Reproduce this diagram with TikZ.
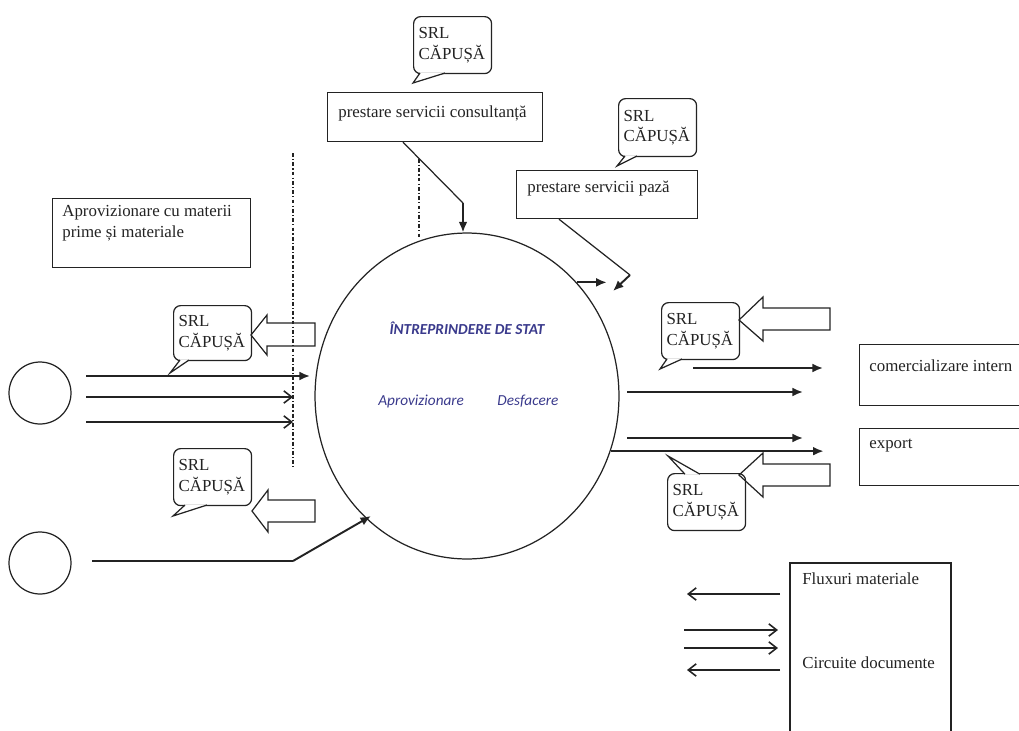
\documentclass[tikz,border=0pt]{standalone}
\usepackage{fontspec}
\setmainfont{Liberation Serif}
\newfontfamily\calfont{Carlito}
\usetikzlibrary{shapes.geometric,arrows.meta,calc}
\definecolor{ink}{RGB}{35,35,35}
\definecolor{stateblue}{RGB}{58,58,140}
\begin{document}
\begin{tikzpicture}[x=0.02cm,y=-0.02cm,
  every node/.style={font=\fontsize{9.6}{11.6}\selectfont, text=ink},
  box/.style={draw=ink, line width=0.7pt, anchor=north west, inner sep=0pt},
  lbl/.style={anchor=base west, inner sep=0pt},
  bubble/.style={draw=ink, line width=0.7pt, rounded corners=4pt, fill=white, anchor=north west,
    inner xsep=0.1cm, inner ysep=0pt, align=left, minimum width=1.56cm, text width=1.36cm},
  tail/.style={draw=ink, line width=0.7pt, fill=white, line join=miter},
  harrow/.style={draw=ink, line width=0.7pt, line join=miter},
  thin/.style={draw=ink, line width=0.7pt},
  flow/.style={draw=ink, line width=1.1pt, -{Latex[length=6pt,width=5pt]}},
  openflow/.style={draw=ink, line width=0.9pt, -{Straight Barb[length=4.5pt,width=7pt]}},
  dashdot/.style={draw=ink, line width=1.2pt, dash pattern=on 2.2pt off 1.2pt on 0.7pt off 1.2pt},
  bluetext/.style={text=stateblue, font=\calfont\itshape\fontsize{8.7}{10}\selectfont, inner sep=0pt},
]
\useasboundingbox (0,0) rectangle (1019,731);

% central enterprise
\node[draw=ink, line width=0.7pt, ellipse, minimum width=6.08cm, minimum height=6.52cm, inner sep=0pt] (ent) at (467,396) {};
\node[bluetext, anchor=base] (entT) at (467,334) {\bfseries ÎNTREPRINDERE DE STAT};
\node[bluetext, anchor=base west] (entA) at (378,405) {Aprovizionare};
\node[bluetext, anchor=base west] (entD) at (497,405) {Desfacere};

% boxes
\node[box, minimum width=4.30cm, minimum height=0.98cm] (cons) at (327,92) {};
\node[lbl] (consT) at (338,117) {prestare servicii consultanță};
\node[box, minimum width=3.62cm, minimum height=0.96cm] (paza) at (516,170) {};
\node[lbl] (pazaT) at (527,192) {prestare servicii pază};
\node[box, minimum width=3.96cm, minimum height=1.38cm] (aprov) at (52,198) {};
\node[lbl] (aprovT1) at (62,216) {Aprovizionare cu materii};
\node[lbl] (aprovT2) at (62,237) {prime și materiale};
\node[box, minimum width=3.20cm, minimum height=1.22cm] (comerc) at (859,344) {};
\node[lbl] (comercT) at (869,371) {comercializare intern};
\node[box, minimum width=3.20cm, minimum height=1.14cm] (export) at (859,428) {};
\node[lbl] (exportT) at (869,448) {export};

% legend box (open at the bottom edge)
\coordinate (lgA) at (790,731);
\coordinate (lgB) at (951,563);
\coordinate (lgC) at (951,731);
\draw[thin] (lgA) |- (lgB) -- (lgC);
\node[lbl] (lgT1) at (802,584) {Fluxuri materiale};
\node[lbl] (lgT2) at (802,668) {Circuite documente};

% outside partners
\node[draw=ink, line width=0.7pt, circle, minimum size=1.24cm, inner sep=0pt] (c1) at (40,393) {};
\node[draw=ink, line width=0.7pt, circle, minimum size=1.24cm, inner sep=0pt] (c2) at (40,563) {};

% dash-dot boundaries
\coordinate (d1a) at (293,153);
\coordinate (d1b) at (293,467);
\coordinate (d2a) at (419,159);
\coordinate (d2b) at (419,239);
\draw[dashdot] (d1a) -- (d1b);
\draw[dashdot] (d2a) -- (d2b);

% speech bubbles
\node[bubble, minimum height=1.14cm] (b1) at (413,16) {SRL\\CĂPUȘĂ};
\draw[tail] ($(b1.south west)+(7,-1.2)$) -- (413,83) -- ($(b1.south west)+(32,-1.2)$);
\node[bubble, minimum height=1.16cm] (b2) at (618,98) {SRL\\CĂPUȘĂ};
\draw[tail] ($(b2.south west)+(7,-1.2)$) -- (617,166) -- ($(b2.south west)+(19,-1.2)$);
\node[bubble, minimum height=1.10cm] (b3) at (173,305) {SRL\\CĂPUȘĂ};
\draw[tail] ($(b3.south west)+(7,-1.2)$) -- (170,373) -- ($(b3.south west)+(16,-1.2)$);
\node[bubble, minimum height=1.14cm] (b4) at (173,448) {SRL\\CĂPUȘĂ};
\draw[tail] ($(b4.south west)+(12,-1.2)$) -- (173,516) -- ($(b4.south west)+(34,-1.2)$);
\node[bubble, minimum height=1.14cm] (b5) at (661,302) {SRL\\CĂPUȘĂ};
\draw[tail] ($(b5.south west)+(6,-1.2)$) -- (660,369) -- ($(b5.south west)+(21,-1.2)$);
\node[bubble, minimum height=1.14cm] (b6) at (667,473) {SRL\\CĂPUȘĂ};
\draw[tail] ($(b6.north west)+(18,1.2)$) -- (668,456) -- ($(b6.north west)+(33,1.2)$);

% hollow arrows
\draw[harrow] (251,335) -- (267,315) -- (267,323) -- (315,323) -- (315,346) -- (267,346) -- (267,355) -- cycle;
\draw[harrow] (252,511) -- (268,490) -- (268,500) -- (315,500) -- (315,522) -- (268,522) -- (268,532) -- cycle;
\draw[harrow] (739,320) -- (763,297) -- (763,308) -- (830,308) -- (830,330) -- (763,330) -- (763,341) -- cycle;
\draw[harrow] (739,475) -- (763,453) -- (763,464) -- (830,464) -- (830,486) -- (763,486) -- (763,497) -- cycle;

% service flows into the enterprise
\coordinate (k1) at (463,203);
\draw[thin] ($(cons.south west)+(76,0)$) -- (k1);
\draw[flow] (k1) -- (k1 |- ent.north);
\coordinate (k2) at (630,275);
\coordinate (k2e) at (613,291);
\draw[thin] ($(paza.south west)+(43,0)$) -- (k2);
\draw[flow] (k2) -- (k2e);
\draw[flow] (ent.46.5) -- ++(30,0);

% supply flows
\draw[flow] (86,376) -- (310,376);
\draw[openflow] (86,397) -- (d1a |- 0,397);
\draw[openflow] (86,422) -- (d1a |- 0,422);
\coordinate (k3) at (293,561);
\draw[thin] (92,561) -- (k3);
\draw[flow] (k3) -- (371,516);

% sales flows
\draw[flow] (693,368) -- (823,368);
\draw[flow] (627,392) -- (803,392);
\draw[flow] (627,438) -- (803,438);
\draw[flow] (ent.-21) -- ++(213,0);

% legend arrows
\draw[openflow] (780,594) -- (687,594);
\draw[openflow] (684,630) -- (778,630);
\draw[openflow] (684,648) -- (778,648);
\draw[openflow] (780,670) -- (687,670);
\end{tikzpicture}
\end{document}
